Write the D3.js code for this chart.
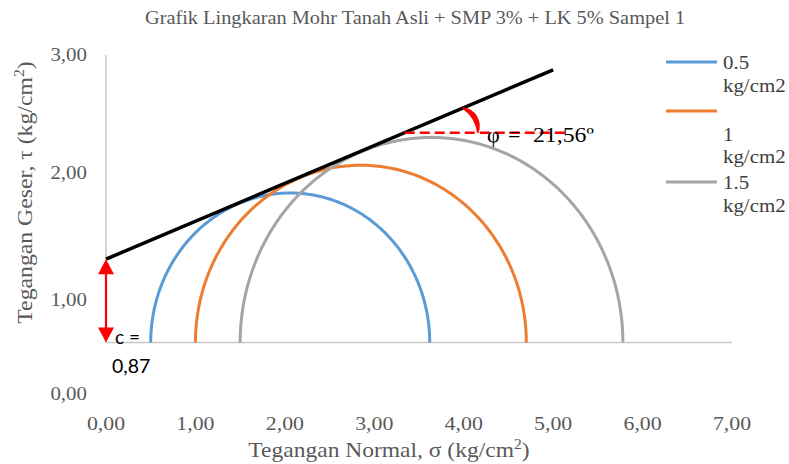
<!DOCTYPE html>
<html><head><meta charset="utf-8">
<script src="https://cdn.jsdelivr.net/npm/d3@7"></script>
<style>body{margin:0;background:#fff}svg{display:block}</style>
</head><body>
<svg id="c" width="789" height="464"></svg>
<script>
// ---- data ----
const seriesNames = ["0.5 kg/cm2", "1 kg/cm2", "1.5 kg/cm2"];
const sigma3 = [0.5, 1.0, 1.5];
const sigma1 = [3.62, 4.70, 5.78];
const cohesion = 0.87;
const phiDeg = 21.56;
const envelopeSigma = [0, 5.0];
const phiVertexTau = 2.19;
const phiDashEndSigma = 5.16;
const xTicks = [0, 1, 2, 3, 4, 5, 6, 7];
const yTicks = [0, 1, 2, 3];
const colors = ["#5b9bd5", "#ed7d31", "#a5a5a5"];

const svg = d3.select("#c");
const serif = "'Liberation Serif','Times New Roman',serif";
const sans = "Lato,'Liberation Sans',Arial,sans-serif";
const textCol = "#595959";
const fmt = v => d3.format(".2f")(v).replace(".", ",");

const x = d3.scaleLinear().domain([0, 7]).range([106, 732]);
const y = d3.scaleLinear().domain([0, 3]).range([342.5, 55]);
// tick label placement as in reference
const yLab = d3.scaleLinear().domain([0, 1, 2, 3]).range([393, 299.5, 172.5, 54]);

function stext(g, tx, ty, sx, size, anchor, fill, family, rot) {
  return g.append("text")
    .attr("transform", `translate(${tx},${ty})` + (rot ? ` rotate(${rot})` : "") + ` scale(${sx},1)`)
    .attr("text-anchor", anchor).attr("font-family", family || serif)
    .attr("font-size", size).attr("fill", fill || textCol);
}

// title
stext(svg, 415, 24, 1.1, 18.5, "middle").text("Grafik Lingkaran Mohr Tanah Asli + SMP 3% + LK 5% Sampel 1");

// axes lines
svg.append("line").attr("x1", x(0)).attr("x2", x(7)).attr("y1", y(0)).attr("y2", y(0))
  .attr("stroke", "#c8c8c8").attr("stroke-width", 1.5);
svg.append("line").attr("x1", x(0)).attr("x2", x(0)).attr("y1", y(0)).attr("y2", y(3))
  .attr("stroke", "#c8c8c8").attr("stroke-width", 1.5);

// x tick labels
xTicks.forEach(d => stext(svg, x(d), 430, 1.15, 19, "middle").text(fmt(d)));
// y tick labels
yTicks.forEach(d => stext(svg, 87, yLab(d) + 6.5, 1.1, 19, "end").text(fmt(d)));

// axis titles
const xt = stext(svg, 389, 456.5, 1.12, 21, "middle");
xt.append("tspan").text("Tegangan Normal, σ (kg/cm");
xt.append("tspan").attr("font-size", 14).attr("dy", -8).text("2");
xt.append("tspan").attr("dy", 8).text(")");

const yt = stext(svg, 32, 192.5, 1.13, 21, "middle", textCol, serif, -90);
yt.append("tspan").text("Tegangan Geser, τ (kg/cm");
yt.append("tspan").attr("font-size", 14).attr("dy", -8).text("2");
yt.append("tspan").attr("dy", 8).text(")");

// Mohr circles
const line = d3.line().x(d => x(d[0])).y(d => y(d[1]));
const angles = d3.range(0, 181, 1).map(a => a * Math.PI / 180);
sigma3.forEach((s3, i) => {
  const c = (s3 + sigma1[i]) / 2, r = (sigma1[i] - s3) / 2;
  const pts = angles.map(t => [c - r * Math.cos(t), r * Math.sin(t)]);
  svg.append("path").attr("d", line(pts)).attr("fill", "none")
    .attr("stroke", colors[i]).attr("stroke-width", 3);
});

// failure envelope
const tanPhi = Math.tan(phiDeg * Math.PI / 180);
svg.append("path").attr("d", line(envelopeSigma.map(s => [s, cohesion + s * tanPhi])))
  .attr("stroke", "#000").attr("stroke-width", 3.5).attr("fill", "none");

// cohesion arrow
const red = "#ff0000";
const ax = x(0);
svg.append("line").attr("x1", ax).attr("x2", ax).attr("y1", y(0) - 12).attr("y2", y(cohesion) + 12)
  .attr("stroke", red).attr("stroke-width", 2.2);
svg.append("path").attr("d", `M${ax},${y(cohesion)} l-8,15 l16,0 z`).attr("fill", red);
svg.append("path").attr("d", `M${ax},${y(0)} l-8,-15 l16,0 z`).attr("fill", red);
stext(svg, 115, 344, 1, 19, "start", "#000", sans).text("c =");
stext(svg, 112, 373, 1, 19.5, "start", "#000", sans).text(fmt(cohesion));

// phi dashed line and arc
const vSigma = (phiVertexTau - cohesion) / tanPhi;
const vx = x(vSigma), vy = y(phiVertexTau);
svg.append("line").attr("x1", vx).attr("x2", x(phiDashEndSigma)).attr("y1", vy).attr("y2", vy)
  .attr("stroke", red).attr("stroke-width", 2.5).attr("stroke-dasharray", "10,5");
const phiScreen = Math.atan2((y(phiVertexTau) - y(phiVertexTau + tanPhi)), x(1) - x(0));
const p1 = [vx + 63 * Math.cos(phiScreen), vy - 63 * Math.sin(phiScreen)];
const p2 = [vx + 73, vy];
svg.append("path")
  .attr("d", `M${p1[0]},${p1[1]} A18,18 0 0 1 ${p2[0]},${p2[1]} A35,35 0 0 0 ${p1[0]},${p1[1]} Z`)
  .attr("fill", red).attr("stroke", red).attr("stroke-width", 1.5);
stext(svg, 487, 141.5, 1, 22, "start", "#000").text("φ");
stext(svg, 508, 141.5, 1, 22, "start", "#000").text("=");
stext(svg, 533, 141.5, 1.08, 22, "start", "#000").text(fmt(phiDeg) + "º");

// legend
const legY = [62, 111, 182];
seriesNames.forEach((n, i) => {
  svg.append("line").attr("x1", 666).attr("x2", 717).attr("y1", legY[i]).attr("y2", legY[i])
    .attr("stroke", colors[i]).attr("stroke-width", 3);
  const parts = n.split(" ");
  const rows = i === 1 ? ["", parts[0], parts[1]] : parts;
  rows.forEach((p, j) => stext(svg, 723, legY[i] + 7 + j * 22.5, 1.07, 19.5, "start", "#404040").text(p));
});
</script>
</body></html>
